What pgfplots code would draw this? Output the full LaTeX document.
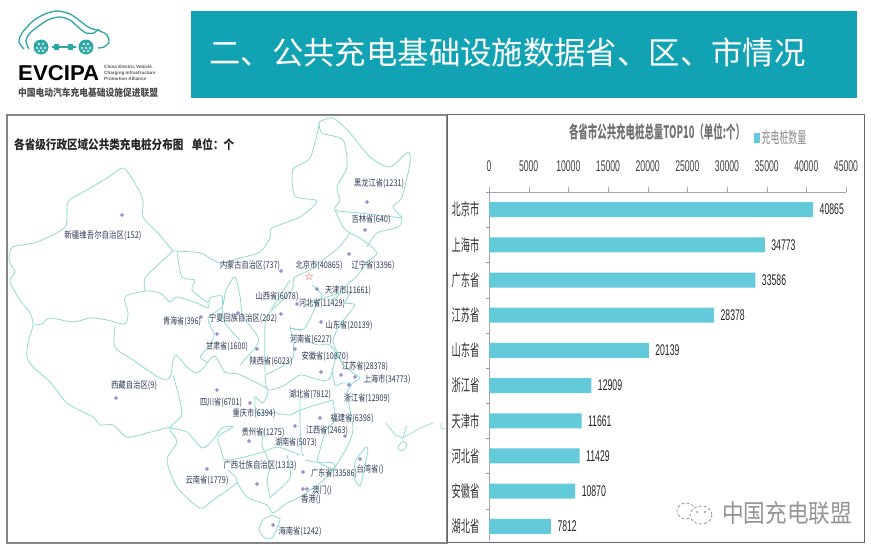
\documentclass[border=0pt]{standalone}
\usepackage{graphicx}
\usepackage{fontspec}
\usepackage{pgfplots}
\pgfplotsset{compat=1.18}
\setmainfont{Liberation Sans}
\newfontfamily\cjk{Noto Sans CJK SC}
\newfontfamily\cjkn[FakeStretch=0.56]{Noto Sans CJK SC}
\newfontfamily\narrow[FakeStretch=0.56]{Liberation Sans}
\newfontfamily\dejavu{DejaVu Sans}
\definecolor{band}{HTML}{11A3B3}
\definecolor{barc}{HTML}{62CAD8}
\definecolor{mapc}{HTML}{8EDAD0}
\definecolor{labc}{HTML}{2C3A58}
\definecolor{logoc}{HTML}{2FA6A6}
\definecolor{dotc}{HTML}{7468C8}
\newcommand{\lab}[4]{\node[inner sep=0pt,text=labc] at (#1,#2) {\resizebox{#3pt}{7.8pt}{\cjk #4}};}
\pgfplotsset{mapl/.style={mapc,line width=0.8pt,smooth,tension=0.45,mark=none,forget plot}}
\begin{document}
\begin{tikzpicture}
\path[use as bounding box] (0pt,0pt) rectangle (871pt,547pt);
\begin{axis}[at={(0pt,0pt)},anchor=south west,scale only axis,width=871pt,height=547pt,
  xmin=0,xmax=871,ymin=0,ymax=547,y dir=reverse,hide axis,clip=false]
% band
\fill[band] (191,11) rectangle (857,98);
\node[text=white,font=\cjk\fontsize{31.4}{32}\selectfont,inner sep=0pt,anchor=west] at (209,52) {二、公共充电基础设施数据省、区、市情况};
% frames
\draw[gray!95,line width=2pt] (7,114.5) rectangle (447,542.5);
\draw[black!60,line width=1pt] (447,114.5) rectangle (864,542);
% logo
\addplot[logoc,line width=1.3pt,smooth,mark=none,forget plot] coordinates {(24,49)(19,42)(22,33)(33,21)(45,14)(57,11)(70,14)(80,21)(90,28)(100,31)(107,35)(109,42)(104,47)(98,48)};
\addplot[logoc,line width=1.3pt,smooth,mark=none,forget plot] coordinates {(29,49)(26,41)(30,33)(40,25)(50,19)(60,17)(70,20)(78,27)(86,33)(94,33)};
\fill[logoc] (41,47) circle[radius=7.5pt];
\fill[logoc] (86,47) circle[radius=7.5pt];
\addplot[only marks,mark=*,mark size=1.1pt,white!70!logoc,forget plot] coordinates {(39,44)(43,44)(37,48)(41,48)(45,48)(39,51)(43,51)(84,44)(88,44)(82,48)(86,48)(90,48)(84,51)(88,51)};
\draw[logoc,line width=1.4pt] (52,47)--(76,47);
\fill[logoc] (54,44) rectangle (59,50);
\fill[logoc] (68,44) rectangle (73,50);
\draw[logoc,line width=1.2pt] (94,33)--(99,29);
\node[inner sep=0pt,anchor=west] at (18,73) {\resizebox{81pt}{15pt}{\bfseries EVCIPA}};
\node[inner sep=0pt,anchor=west,align=left,font=\bfseries\fontsize{4.6}{6.2}\selectfont,text=black!65] at (104,72.8) {China Electric Vehicle\\Charging Infrastructure\\Promotion Alliance};
\node[inner sep=0pt,anchor=west,text=black!70] at (18,92.5) {\resizebox{140pt}{8.6pt}{\cjk\bfseries 中国电动汽车充电基础设施促进联盟}};
% map title
\node[inner sep=0pt,anchor=west,text=black!85] at (14,145) {\resizebox{220pt}{11pt}{\cjk\bfseries 各省级行政区域公共类充电桩分布图\hspace{0.8em}单位：个}};
% map: outer and provincial lines
\addplot[mapl] coordinates {(173,251)(158,233)(143,217)(143,200)(133,180)(123,168)(107,178)(87,190)(68,202)(65,227)(37,242)(13,247)(9,258)(11,265)(15,272)(10,282)(20,300)(30,313)(33,325)(28,343)(27,357)(33,367)(50,382)(67,403)(93,417)(100,425)(113,425)(127,437)(147,433)(170,427)};
\addplot[mapl] coordinates {(33,325)(42,324)(50,318)(73,322)(90,318)(107,320)(125,324)(128,313)(125,297)(145,291)(160,293)(170,302)(177,297)(197,303)(208,308)(210,298)(222,296)(222,307)};
\addplot[mapl] coordinates {(173,251)(160,263)(145,278)(145,291)};
\addplot[mapl] coordinates {(173,251)(200,253)(220,263)(240,258)(260,252)(270,238)(272,228)(300,217)(317,201)(295,196)(293,170)(310,158)(318,130)(319,122)};
\addplot[mapl] coordinates {(319,122)(333,118)(350,133)(370,157)(390,167)(408,152)(410,163)(402,197)(393,207)(402,218)(398,227)(377,233)(367,247)};
\addplot[mapl] coordinates {(319,122)(322,133)(343,140)(347,167)(337,187)(340,200)(335,210)(360,213)(402,218)};
\addplot[mapl] coordinates {(335,210)(343,227)(350,233)(363,240)(377,253)(367,262)(358,275)(345,287)(337,297)(330,300)};
\addplot[mapl] coordinates {(350,233)(338,248)(320,262)(310,270)(294,278)(292,290)(272,310)};
\addplot[mapl] coordinates {(177,252)(182,277)(195,280)(192,290)(208,303)};
\addplot[mapl] coordinates {(115,326)(115,347)(133,360)(160,378)(170,377)(175,355)(187,367)(197,373)(207,363)(200,357)(210,345)(214,334)(208,318)(222,307)(226,290)(235,277)(240,296)(243,316)(257,335)(257,345)(240,365)};
\addplot[mapl] coordinates {(222,307)(225,323)(240,340)};
\addplot[mapl] coordinates {(207,363)(215,356)(225,372)(238,374)(257,383)(268,390)(263,403)(255,397)(257,413)(270,412)(290,415)(300,410)(333,400)};
\addplot[mapl] coordinates {(173,375)(182,413)(170,428)(177,442)(167,460)(177,487)(200,508)(213,500)(237,482)(228,470)};
\addplot[mapl] coordinates {(170,428)(187,432)(202,448)(213,440)(222,428)(233,427)(218,437)(222,453)(225,460)(240,458)(263,452)(278,447)(300,455)};
\addplot[mapl] coordinates {(237,482)(247,497)(267,505)(273,513)(287,503)(300,497)(320,483)(333,470)(347,447)(353,430)(350,410)(347,393)(353,383)(360,378)(353,373)(342,363)(337,352)(333,340)(340,325)(355,305)(345,303)(350,292)(330,296)(305,305)};
\addplot[mapl] coordinates {(264,430)(262,445)(270,465)(267,480)(270,497)};
\addplot[mapl] coordinates {(305,340)(318,345)(330,345)(342,363)};
\addplot[mapl] coordinates {(300,397)(300,425)(302,453)(304,455)};
\addplot[mapl] coordinates {(333,400)(335,420)(326,430)(320,450)(318,462)(335,470)};
\addplot[mapl] coordinates {(265,373)(265,325)(270,312)(290,280)};
\addplot[mapl] coordinates {(290,326)(293,358)(265,375)};
\addplot[mapl] coordinates {(302,330)(290,328)(304,329)(318,302)(322,295)(312,285)};
\addplot[mapl] coordinates {(265,375)(268,390)(285,385)(300,375)(320,380)(330,378)(337,352)};
\addplot[mapl] coordinates {(332,368)(335,385)(342,383)(352,383)};
\addplot[mapl] coordinates {(305,460)(315,462)(333,463)(335,470)};
\addplot[mapl] coordinates {(287,455)(290,478)(269,498)};
\addplot[mapl] coordinates {(272,515)(263,520)(259,530)(265,538)(272,538)(277,528)(280,519)(272,515)};
\addplot[mapl] coordinates {(366,447)(356,460)(354,477)(360,486)(364,470)(368,450)(366,447)};
\addplot[mapc,line width=0.7pt,forget plot] coordinates {(386,423)(395,435)(403,438)(407,425)};
\addplot[mapc,line width=0.7pt,forget plot] coordinates {(403,438)(420,428)(433,423)};
\addplot[mapc,line width=0.7pt,smooth,forget plot] coordinates {(403,441)(407,445)(402,451)(398,447)(403,441)};
\addplot[mapc,line width=0.7pt,forget plot] coordinates {(441,423)(441,428)(445,429)};
% points
\addplot[only marks,mark=o,mark size=1.3pt,dotc,line width=0.7pt,forget plot] coordinates {
(122,215)(367,202)(365,230)(349,254)(281,271)(317,289)(297,304)(281,314)(321,322)(201,317)(238,313)(217,334)(257,349)(295,349)(321,372)(341,375)(355,377)(349,385)(116,398)(217,390)(250,403)(295,426)(320,418)(345,436)(249,441)(360,459)(207,469)(257,484)(303,472)(303,489)(307,489)(273,525)};
\node[text=red!85!white,inner sep=0pt,font=\dejavu\fontsize{11}{11}\selectfont] at (309,277) {☆};
% labels
\lab{103}{235}{77}{新疆维吾尔自治区(152)}
\lab{379}{184}{50}{黑龙江省(1231)}
\lab{371}{220}{39}{吉林省(640)}
\lab{250}{266}{60}{内蒙古自治区(737)}
\lab{319}{265}{47}{北京市(40865)}
\lab{373}{265}{43}{辽宁省(3396)}
\lab{348}{290}{46}{天津市(11661)}
\lab{277}{297}{43}{山西省(6078)}
\lab{322}{304}{46}{河北省(11429)}
\lab{243}{318}{68}{宁夏回族自治区(202)}
\lab{182}{322}{38}{青海省(396)}
\lab{349}{325}{47}{山东省(20139)}
\lab{311}{340}{42}{河南省(6227)}
\lab{227}{347}{42}{甘肃省(1600)}
\lab{325}{357}{47}{安徽省(10870)}
\lab{271}{362}{43}{陕西省(6023)}
\lab{365}{367}{46}{江苏省(28378)}
\lab{387}{379}{47}{上海市(34773)}
\lab{134}{386}{46}{西藏自治区(9)}
\lab{310}{395}{42}{湖北省(7812)}
\lab{367}{399}{46}{浙江省(12909)}
\lab{221}{403}{42}{四川省(6701)}
\lab{254}{413}{43}{重庆市(6394)}
\lab{352}{419}{43}{福建省(6398)}
\lab{327}{431}{42}{江西省(2463)}
\lab{263}{433}{43}{贵州省(1275)}
\lab{296}{443}{42}{湖南省(5073)}
\lab{260}{465}{73}{广西壮族自治区(1313)}
\lab{334}{473}{46}{广东省(33586)}
\lab{370}{469}{27}{台湾省()}
\lab{207}{481}{43}{云南省(1779)}
\lab{322}{491}{20}{澳门()}
\lab{311}{500}{20}{香港()}
\lab{300}{532}{43}{海南省(1242)}
% chart title
\node[inner sep=0pt,text=black!55] at (657,132) {\resizebox{176pt}{15pt}{\cjk\bfseries 各省市公共充电桩总量TOP10（单位:个）}};
% watermark
\node[inner sep=0pt,anchor=west,text=black!42] at (722,513) {\resizebox{130pt}{21pt}{\cjk 中国充电联盟}};
\draw[black!45,line width=0.7pt,densely dashed] (686,511) ellipse[x radius=9pt,y radius=8pt];
\draw[black!45,line width=0.7pt,densely dashed,fill=white] (701,515) ellipse[x radius=11pt,y radius=9pt];
\addplot[only marks,mark=*,mark size=0.7pt,black!45,forget plot] coordinates {(697,512)(705,512)};
\end{axis}
\begin{axis}[at={(489pt,355pt)},anchor=north west,scale only axis,width=357pt,height=349pt,
  xbar,bar width=15pt,xmin=0,xmax=45000,ymin=-0.5,ymax=9.415,y dir=reverse,
  axis y line=left,axis x line=top,axis line style={black!35,-,line width=0.8pt},
  xtick={0,5000,...,45000},ytick={0,...,9},
  minor ytick={-0.5,0.5,...,8.5},
  yticklabels={北京市,上海市,广东省,江苏省,山东省,浙江省,天津市,河北省,安徽省,湖北省},
  /pgf/number format/assume math mode=true,/pgf/number format/fixed,/pgf/number format/1000 sep={},
  scaled x ticks=false,
  tick align=outside,
  x tick label style={font=\narrow\fontsize{15.5}{15}\selectfont,text=black!75,yshift=12pt},
  y tick label style={font=\cjkn\fontsize{16.5}{17}\selectfont,text=black!80,xshift=-1pt},
  major tick length=5pt,
  xtick style={black!35},
  major y tick style={draw=none},
  minor tick length=3pt,minor tick style={black!40},
  nodes near coords,
  every node near coord/.append style={font=\narrow\fontsize{15.5}{15}\selectfont,text=black!85,/pgf/number format/fixed,/pgf/number format/1000 sep={},xshift=3pt},
  clip=false,
  legend style={at={(0.742,1.155)},anchor=west,draw=none,fill=none,font=\cjkn\fontsize{16}{16}\selectfont,text=black!45,inner sep=0pt},
  legend image code/.code={\fill[barc] (0cm,-5pt) rectangle (5.5pt,5pt);},
  legend cell align=left]
\addplot[fill=barc,draw=none] coordinates {(40865,0)(34773,1)(33586,2)(28378,3)(20139,4)(12909,5)(11661,6)(11429,7)(10870,8)(7812,9)};
\legend{充电桩数量}
\end{axis}
\end{tikzpicture}
\end{document}
